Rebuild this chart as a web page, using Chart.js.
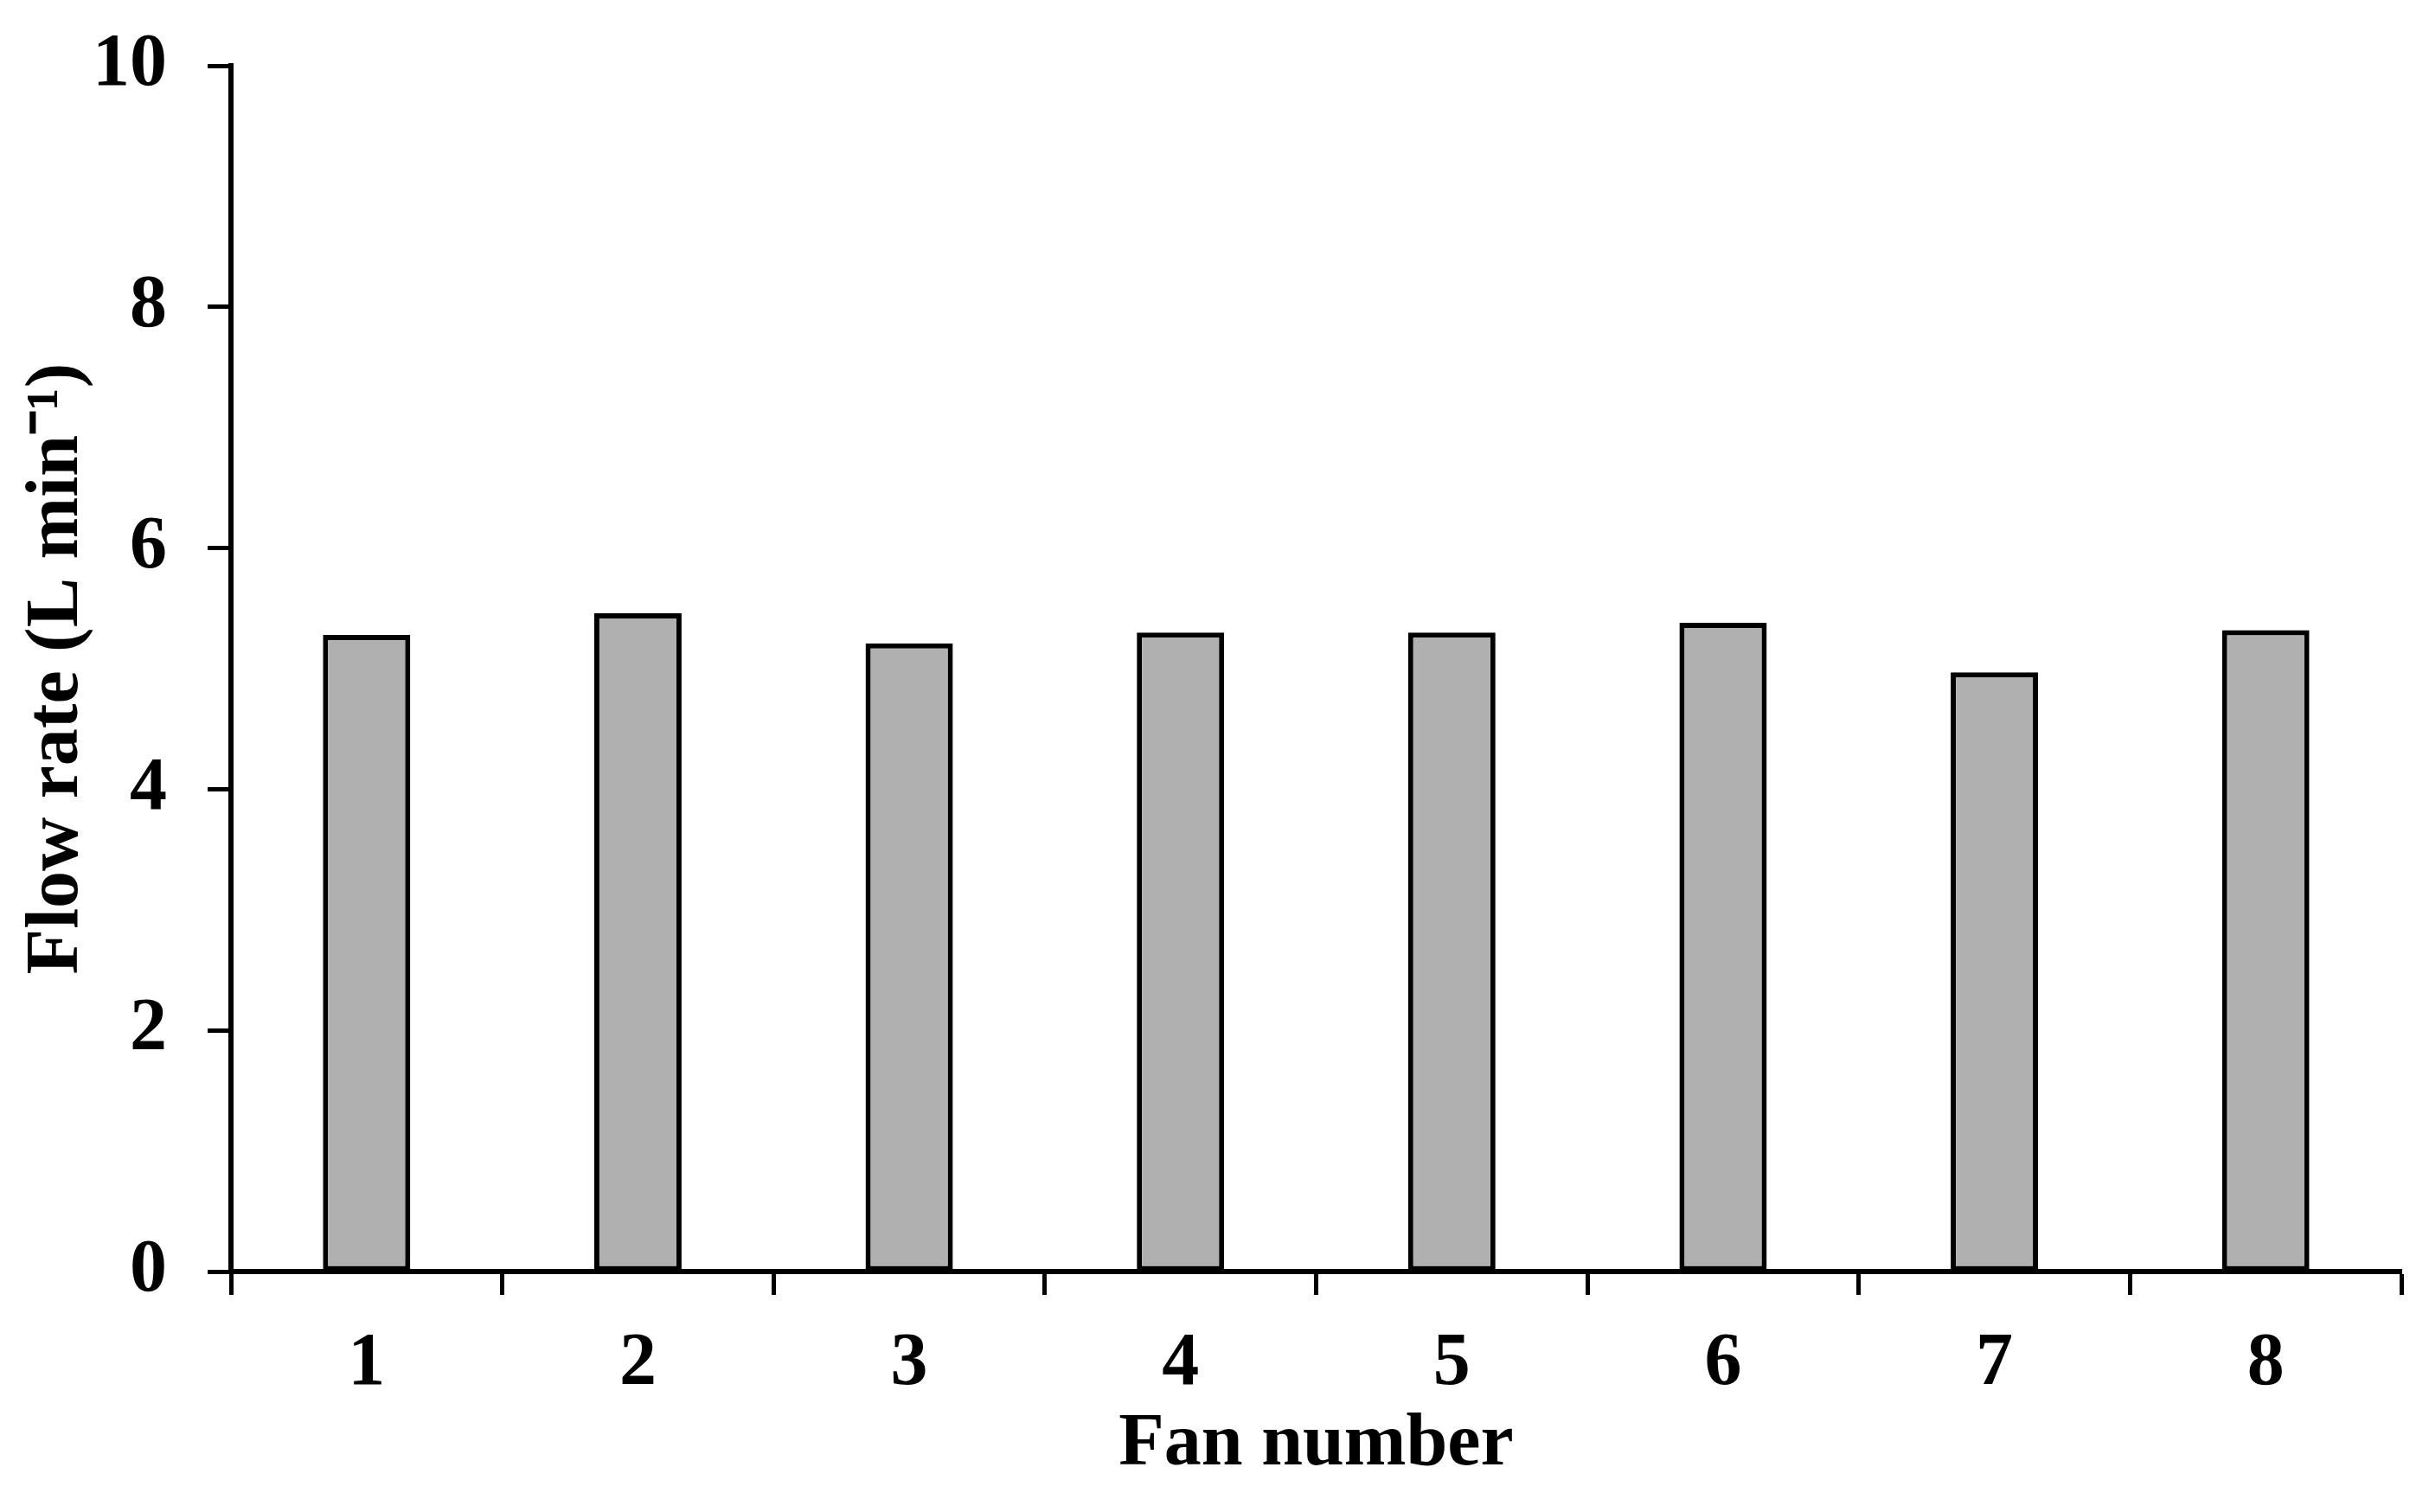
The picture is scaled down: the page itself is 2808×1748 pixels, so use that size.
<!DOCTYPE html>
<html>
<head>
<meta charset="utf-8">
<script src="https://cdn.jsdelivr.net/npm/chart.js@4.4.1/dist/chart.umd.min.js"></script>
<style>
  html, body { margin: 0; padding: 0; background: #fff; }
  #wrap { width: 2808px; height: 1748px; }
</style>
</head>
<body>
<div id="wrap"><canvas id="chart" width="2808" height="1748"></canvas></div>
<script>
const fanLabels = ['1', '2', '3', '4', '5', '6', '7', '8'];
const flowRates = [5.28, 5.46, 5.21, 5.30, 5.30, 5.38, 4.97, 5.32];
const yTicks = [0, 2, 4, 6, 8, 10];

const fontFamily = '"Liberation Serif", "Times New Roman", serif';
const ink = '#000';

const ctx = document.getElementById('chart').getContext('2d');

new Chart(ctx, {
  type: 'bar',
  data: {
    labels: fanLabels,
    datasets: [{
      data: flowRates,
      backgroundColor: '#b0b0b0',
      borderColor: ink,
      borderWidth: 6,
      borderSkipped: false,
      categoryPercentage: 1,
      barPercentage: 0.322
    }]
  },
  options: {
    responsive: false,
    animation: false,
    devicePixelRatio: 1,
    layout: {
      padding: { top: 76, right: 32, bottom: 0, left: 0 }
    },
    plugins: {
      legend: { display: false },
      tooltip: { enabled: false }
    },
    scales: {
      x: {
        offset: true,
        border: { display: true, color: ink, width: 6 },
        grid: {
          offset: true,
          drawOnChartArea: false,
          drawTicks: true,
          tickLength: 27,
          tickWidth: 5,
          color: ink
        },
        ticks: {
          color: ink,
          padding: 29,
          font: { family: fontFamily, size: 86, weight: 'bold' }
        },
        title: {
          display: true,
          text: 'Fan number',
          color: ink,
          padding: { top: 0, bottom: 26 },
          font: { family: fontFamily, size: 86, weight: 'bold' }
        },
        afterFit(scale) {
          scale.height = 1748 - 1470;
        }
      },
      y: {
        min: 0,
        max: 10,
        border: { display: true, color: ink, width: 6 },
        grid: {
          drawOnChartArea: false,
          drawTicks: true,
          tickLength: 27,
          tickWidth: 5,
          color: ink
        },
        afterBuildTicks(scale) {
          scale.ticks = yTicks.map((v) => ({ value: v }));
        },
        ticks: {
          color: ink,
          padding: 47,
          font: { family: fontFamily, size: 86, weight: 'bold' }
        },
        title: {
          display: true,
          text: 'Flow rate (L min\u207B\u00B9)',
          color: ink,
          padding: { top: 15, bottom: 0 },
          font: { family: fontFamily, size: 86, weight: 'bold' }
        },
        afterFit(scale) {
          scale.width = 267;
          scale.paddingTop = 0;
          scale.paddingBottom = 0;
        }
      }
    }
  }
});
</script>
</body>
</html>
